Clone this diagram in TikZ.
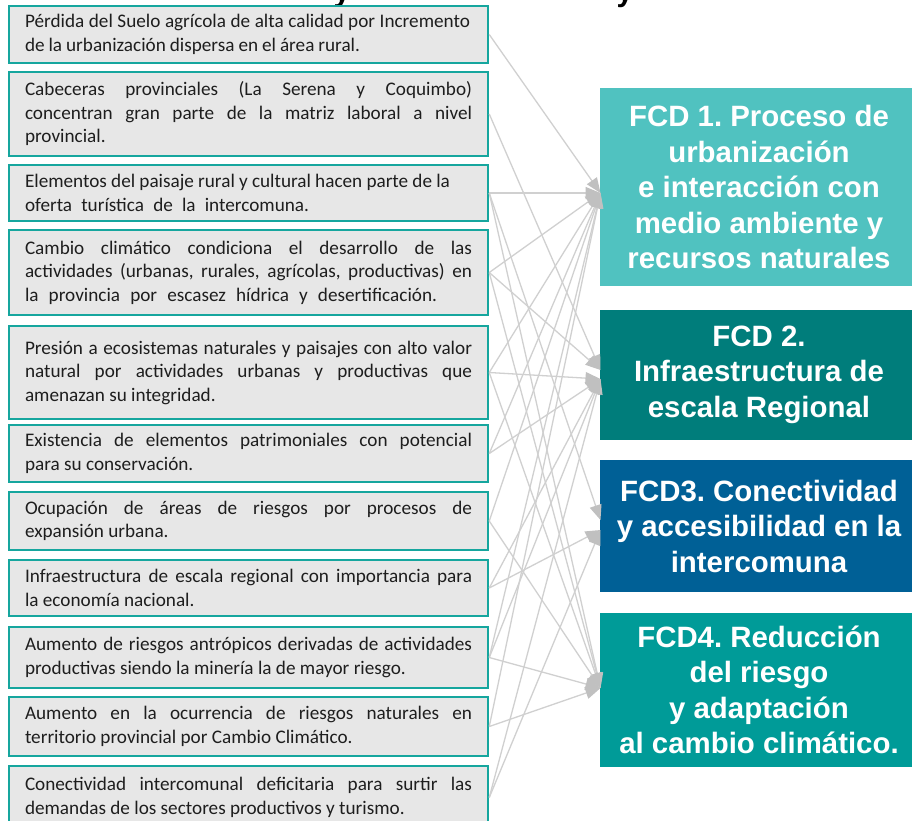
\documentclass[tikz,border=0pt]{standalone}
\usepackage{fontspec}
\setmainfont{Carlito}
\newfontfamily\arialfont{Liberation Sans}
\usetikzlibrary{arrows.meta}
\frenchspacing
\definecolor{boxfill}{RGB}{231,231,231}
\definecolor{boxline}{RGB}{22,166,158}
\definecolor{boxtext}{RGB}{30,30,30}
\definecolor{linegray}{RGB}{208,208,208}
\definecolor{tipgray}{RGB}{192,192,192}
\definecolor{fcdone}{RGB}{80,194,192}
\definecolor{fcdtwo}{RGB}{0,125,123}
\definecolor{fcdthree}{RGB}{0,96,150}
\definecolor{fcdfour}{RGB}{0,155,152}
\tikzset{
 lbox/.style={draw=boxline, line width=2.5pt, fill=boxfill, text width=447pt, inner xsep=16pt, inner ysep=0pt, font=\fontsize{19.2}{23.5}\selectfont, text=boxtext},
 jbox/.style={lbox, align=justify},
 rbox/.style={lbox, align=flush left},
 fcd/.style={minimum width=318pt, inner sep=0pt, align=center, text=white, font=\arialfont\bfseries\fontsize{29.4}{35.5}\selectfont},
 conn/.style={draw=linegray, line width=1.3pt, -{Triangle[length=15pt,width=12pt,color=tipgray]}},
 titlefrag/.style={anchor=base, inner sep=0pt, text=black, font=\arialfont\bfseries\fontsize{30}{30}\selectfont}
}
\begin{document}
\begin{tikzpicture}[x=1pt,y=-1pt]
\useasboundingbox (0,0) rectangle (912,820);
\fill[white] (0,0) rectangle (912,820);
% cut-off title fragments (behind the boxes)
\node[titlefrag] (ya) at (342,1) {y};
\node[titlefrag] (yb) at (625,1) {y};
% left boxes
\node[rbox, minimum height=57pt] (b1) at (248.5,34.5) {\makebox[445pt][s]{P\'erdida del Suelo agr\'icola de alta calidad por Incremento}\\\makebox[335pt][s]{de la urbanizaci\'on dispersa en el \'area rural.}};
\node[jbox, minimum height=84pt] (b2) at (248.5,114) {Cabeceras provinciales (La Serena y Coquimbo)\linebreak concentran gran parte de la matriz laboral a nivel\linebreak provincial.};
\node[rbox, minimum height=56pt] (b3) at (248.5,193) {\makebox[425pt][s]{Elementos del paisaje rural y cultural hacen parte de la}\\\makebox[284pt][s]{oferta tur\'istica de la intercomuna.}};
\node[jbox, minimum height=85pt] (b4) at (248.5,272.5) {Cambio clim\'atico condiciona el desarrollo de las\linebreak actividades (urbanas, rurales, agr\'icolas, productivas) en\linebreak \makebox[412pt][s]{la provincia por escasez h\'idrica y desertificaci\'on.}};
\node[jbox, minimum height=93pt] (b5) at (248.5,372.5) {Presi\'on a ecosistemas naturales y paisajes con alto valor\linebreak natural por actividades urbanas y productivas que\linebreak amenazan su integridad.};
\node[jbox, minimum height=57pt] (b6) at (248.5,453.5) {Existencia de elementos patrimoniales con potencial\linebreak para su conservaci\'on.};
\node[jbox, minimum height=58pt] (b7) at (248.5,521) {Ocupaci\'on de \'areas de riesgos por procesos de\linebreak expansi\'on urbana.};
\node[jbox, minimum height=56pt] (b8) at (248.5,588) {Infraestructura de escala regional con importancia para\linebreak la econom\'ia nacional.};
\node[jbox, minimum height=61pt] (b9) at (248.5,657.5) {Aumento de riesgos antr\'opicos derivadas de actividades\linebreak productivas siendo la miner\'ia la de mayor riesgo.};
\node[jbox, minimum height=59pt] (b10) at (248.5,726.5) {Aumento en la ocurrencia de riesgos naturales en\linebreak territorio provincial por Cambio Clim\'atico.};
\node[jbox, minimum height=63pt] (b11) at (248.5,797.5) {Conectividad intercomunal deficitaria para surtir las\linebreak demandas de los sectores productivos y turismo.};
% right boxes
\node[fcd, fill=fcdone, minimum height=198pt] (f1) at (759,187) {FCD 1. Proceso de\\urbanizaci\'on\\e interacci\'on con\\medio ambiente y\\recursos naturales};
\node[fcd, fill=fcdtwo, minimum height=130pt] (f2) at (759,374.5) {FCD 2.\\Infraestructura de\\escala Regional};
\node[fcd, fill=fcdthree, minimum height=132pt] (f3) at (759,526) {FCD3. Conectividad\\y accesibilidad en la\\intercomuna};
\node[fcd, fill=fcdfour, minimum height=154pt] (f4) at (759,690) {FCD4. Reducci\'on\\del riesgo\\y adaptaci\'on\\al cambio clim\'atico.};
% arrow targets on the left edges of the FCD boxes
\coordinate (t1) at (600.5,193);
\coordinate (t2a) at (600.5,370);
\coordinate (t2b) at (600.5,379);
\coordinate (t3a) at (600.5,520);
\coordinate (t3b) at (600.5,530);
\coordinate (t4) at (600.5,688);
% connectors
\draw[conn] (b1.east) -- (t1);
\draw[conn] (b2.east) -- (t2a);
\draw[conn] (b3.east) -- (t1);
\draw[conn] (b3.east) -- (t3a);
\draw[conn] (b3.east) -- (t4);
\draw[conn] (b4.east) -- (t1);
\draw[conn] (b4.east) -- (t2a);
\draw[conn] (b4.east) -- (t4);
\draw[conn] (b5.east) -- (t1);
\draw[conn] (b5.east) -- (t2b);
\draw[conn] (b5.east) -- (t4);
\draw[conn] (b6.east) -- (t1);
\draw[conn] (b6.east) -- (t2b);
\draw[conn] (b7.east) -- (t1);
\draw[conn] (b7.east) -- (t4);
\draw[conn] (b8.east) -- (t2b);
\draw[conn] (b8.east) -- (t3b);
\draw[conn] (b9.east) -- (t1);
\draw[conn] (b9.east) -- (t2b);
\draw[conn] (b9.east) -- (t4);
\draw[conn] (b10.east) -- (t1);
\draw[conn] (b10.east) -- (t4);
\draw[conn] (b11.east) -- (t2b);
\draw[conn] (b11.east) -- (t3b);
\end{tikzpicture}
\end{document}
